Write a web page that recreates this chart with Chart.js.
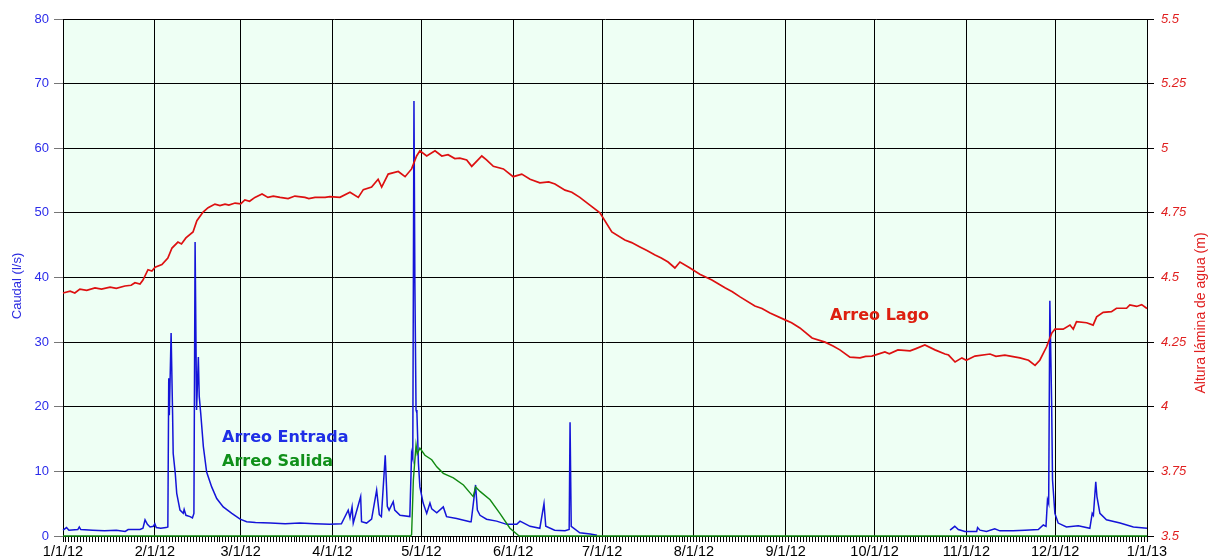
<!DOCTYPE html>
<html>
<head>
<meta charset="utf-8">
<script src="https://cdn.jsdelivr.net/npm/chart.js@4.4.1/dist/chart.umd.min.js"></script>
<style>
  body { margin: 0; background: #fff; }
  canvas { display: block; }
</style>
</head>
<body>
<canvas id="grafico-arreo" width="1210" height="558"></canvas>
<script>
// dias desde el 1/1/12 (2012 es bisiesto)
var mesesDias = [0, 31, 60, 91, 121, 152, 182, 213, 244, 274, 305, 335, 366];
var mesesEtiquetas = ["1/1/12", "2/1/12", "3/1/12", "4/1/12", "5/1/12", "6/1/12", "7/1/12",
                      "8/1/12", "9/1/12", "10/1/12", "11/1/12", "12/1/12", "1/1/13"];

var entradaDias = [
  0, 1.2, 2, 5, 5.5, 6, 10, 14, 18, 21,
  22, 26, 27, 27.7, 28.5, 29.4, 30.5, 31, 31.5, 33,
  34.8, 35.4, 35.7, 35.9, 36.5, 37.0, 37.2, 37.9, 38.4, 39.5,
  40.6, 40.9, 41.5, 42.9, 43.7, 44.2, 44.6, 45.1, 45.7, 46.0,
  46.5, 47.4, 48.5, 50.2, 51.9, 54.1, 57.0, 59.8, 62, 65,
  70, 75, 80, 85, 90, 94, 96.3, 96.9, 97.6, 98,
  100.5, 100.8, 102.5, 104.2, 105.9, 106.8, 107.5, 108.8, 109.5, 110.1,
  111.5, 112, 113.8, 117.1, 117.7, 118.1, 118.5, 118.8, 119.2, 119.5,
  120, 120.5, 121.6, 122.8, 123.9, 124.5, 126.2, 128.4, 129.5, 132.9,
  137.4, 137.8, 139.3, 139.9, 140.8, 143, 146.4, 149.8, 153.2, 154.3,
  157.7, 161, 162.4, 163, 166, 169.5, 170.9, 171.2, 171.6, 174.5,
  178, 180.3, 240, 299.5, 301.1, 302.3, 304.5, 308.5, 308.8, 309.6,
  311.8, 314.6, 316.3, 320.8, 324.8, 329.3, 331, 331.9, 332.4, 332.8,
  333.2, 333.8, 334.1, 334.9, 336, 338.8, 342.8, 346.7, 347.5, 347.9,
  348.7, 349.1, 350.1, 352.3, 356.9, 361.4, 366
];
var entradaCaudal = [
  0.9, 1.3, 0.9, 1.0, 1.4, 1.0, 0.9, 0.8, 0.9, 0.7,
  1.0, 1.0, 1.2, 2.5, 1.8, 1.4, 1.5, 1.9, 1.3, 1.2,
  1.3, 1.4, 24.4, 18.7, 31.4, 19, 12.8, 9.7, 6.6, 4,
  3.5, 4.1, 3.2, 3.0, 2.8, 3.5, 45.5, 19.5, 27.7, 21.6,
  19, 13.8, 9.9, 7.6, 5.8, 4.5, 3.5, 2.6, 2.2, 2.1,
  2.0, 1.9, 2.0, 1.9, 1.8, 1.9, 4.0, 2.8, 4.5, 2.0,
  6.1, 2.2, 2.0, 2.6, 7.1, 3.3, 3.0, 12.5, 4.6, 4.0,
  5.3, 4.0, 3.2, 3.0, 12.8, 12, 67.3, 39.6, 19.5, 19,
  11.3, 7.6, 5.1, 3.5, 5.1, 4.2, 3.6, 4.5, 3.0, 2.7,
  2.2, 2.2, 7.9, 4, 3.2, 2.6, 2.3, 1.8, 1.8, 2.3,
  1.5, 1.2, 5, 1.5, 0.9, 0.8, 1.0, 17.6, 1.5, 0.5,
  0.3, 0.1, null, 0.9, 1.5, 1.0, 0.7, 0.7, 1.3, 0.9,
  0.7, 1.1, 0.8, 0.8, 0.9, 1.0, 1.7, 1.5, 5.6, 5.0,
  36.4, 20.6, 8.7, 3.5, 2.0, 1.4, 1.6, 1.2, 3.5, 3.2,
  8.4, 6.1, 3.5, 2.5, 2.0, 1.4, 1.2
];

var salidaDias = [0, 117.3, 117.7, 118.3, 119.2, 119.6, 120.5, 122.2, 124.5, 126.2, 128.4,
                  131.8, 135.2, 138.5, 139.3, 140.8, 144.2, 147.5, 150.9, 153.2, 154, 366];
var salidaCaudal = [0, 0, 0.2, 8.7, 14.1, 12.7, 13.6, 12.5, 11.8, 10.7, 9.7,
                    9.0, 7.9, 6.1, 7.6, 6.9, 5.6, 3.5, 1.2, 0.3, 0, 0];

var lagoDias = [
  0, 2.4, 4, 5.7, 8, 10.8, 13, 15.9, 18, 20.9,
  23, 24.3, 26, 27, 28.7, 30, 31.1, 33.4, 35.4, 36.8,
  38.8, 40, 41.5, 43.9, 45.2, 47.3, 49, 51.3, 53, 54.7,
  56, 58.1, 60, 61.4, 63, 64.8, 67.2, 69.2, 71, 73.3,
  76, 78.3, 81.7, 83, 85.1, 88.5, 90.1, 93.5, 96.9, 99.7,
  101.4, 104.2, 106.4, 107.6, 109.8, 113.2, 115.5, 117.7, 119.4, 120.5,
  122.8, 125.6, 127.9, 130, 132.3, 134, 136.3, 138, 141.4, 143,
  145.3, 148.7, 152, 154.9, 157.7, 161, 164, 166.1, 169.5, 171.8,
  174.5, 177.9, 181.3, 185.3, 189.7, 192, 194.8, 197, 199.9, 202,
  204.3, 206.6, 208.3, 211.7, 215, 219.1, 223.5, 226, 228.6, 233.6,
  236, 238.7, 243.8, 246, 248.8, 252.9, 257.3, 260, 262.3, 265.7,
  269.1, 271, 273.1, 277.5, 279, 281.9, 286, 288, 291, 294.4,
  297.8, 299, 301.2, 303.5, 305, 307.9, 313, 315, 318, 323.1,
  326, 328.2, 329.8, 332.1, 333.8, 334.9, 337.7, 340, 341.1, 342.2,
  345.6, 347.8, 349, 351.2, 354, 355.7, 359.1, 360.2, 362.5, 364.2,
  366
];
var lagoAltura = [
  4.44, 4.447, 4.44, 4.455, 4.45, 4.46, 4.455, 4.463, 4.458, 4.467,
  4.47, 4.48, 4.475, 4.49, 4.53, 4.525, 4.54, 4.55, 4.575, 4.614,
  4.637, 4.63, 4.653, 4.676, 4.72, 4.753, 4.77, 4.784, 4.778, 4.784,
  4.78, 4.788, 4.785, 4.80, 4.795, 4.81, 4.823, 4.81, 4.815, 4.81,
  4.805, 4.815, 4.81, 4.805, 4.81, 4.81, 4.813, 4.81, 4.83, 4.81,
  4.84, 4.85, 4.88, 4.85, 4.90, 4.91, 4.89, 4.92, 4.97, 4.99,
  4.97, 4.99, 4.97, 4.975, 4.96, 4.962, 4.955, 4.93, 4.97, 4.955,
  4.93, 4.92, 4.89, 4.90, 4.88, 4.866, 4.87, 4.862, 4.838, 4.83,
  4.81, 4.78, 4.75, 4.676, 4.645, 4.635, 4.618, 4.605, 4.587, 4.575,
  4.56, 4.537, 4.56, 4.537, 4.513, 4.49, 4.46, 4.445, 4.425, 4.39,
  4.38, 4.363, 4.336, 4.325, 4.305, 4.266, 4.25, 4.235, 4.22, 4.192,
  4.189, 4.195, 4.196, 4.212, 4.205, 4.22, 4.216, 4.225, 4.239, 4.22,
  4.204, 4.2, 4.173, 4.189, 4.18, 4.196, 4.204, 4.195, 4.2, 4.189,
  4.18, 4.16, 4.18, 4.232, 4.284, 4.30, 4.30, 4.316, 4.30, 4.329,
  4.325, 4.316, 4.348, 4.365, 4.368, 4.381, 4.381, 4.394, 4.388, 4.395,
  4.38
];

var puntos = function(dias, valores) {
  return dias.map(function(d, i) { return { x: d, y: valores[i] }; });
};

var todosLosDias = [];
for (var d = 0; d <= 366; d++) todosLosDias.push(d);

var fondoArea = {
  id: 'fondoArea',
  beforeDraw: function(chart) {
    var a = chart.chartArea, ctx = chart.ctx;
    ctx.save();
    ctx.fillStyle = '#eefff4';
    ctx.fillRect(a.left, a.top, a.right - a.left, a.bottom - a.top);
    ctx.restore();
  }
};

var textos = {
  id: 'textos',
  afterDraw: function(chart) {
    var ctx = chart.ctx, sx = chart.scales.x, sy = chart.scales.y, sy2 = chart.scales.y2;
    ctx.save();
    ctx.textBaseline = 'middle';
    ctx.textAlign = 'left';
    ctx.font = 'bold 16px "DejaVu Sans", sans-serif';
    ctx.fillStyle = '#1f2fe6';
    ctx.fillText('Arreo Entrada', sx.getPixelForValue(53.7), sy.getPixelForValue(15.2));
    ctx.fillStyle = '#10901a';
    ctx.fillText('Arreo Salida', sx.getPixelForValue(53.7), sy.getPixelForValue(11.45));
    ctx.fillStyle = '#dd2010';
    ctx.fillText('Arreo Lago', sx.getPixelForValue(259), sy2.getPixelForValue(4.351));

    // titulos de ejes
    ctx.textAlign = 'center';
    ctx.font = '13px Arial, "Liberation Sans", sans-serif';
    ctx.fillStyle = '#2a2ae0';
    ctx.translate(17, 286);
    ctx.rotate(-Math.PI / 2);
    ctx.fillText('Caudal (l/s)', 0, 0);
    ctx.setTransform(1, 0, 0, 1, 0, 0);
    ctx.font = '14px Arial, "Liberation Sans", sans-serif';
    ctx.fillStyle = '#e02020';
    ctx.translate(1201, 313);
    ctx.rotate(-Math.PI / 2);
    ctx.fillText('Altura lámina de agua (m)', 0, 0);
    ctx.restore();
  }
};

Chart.defaults.font.family = 'Arial, "Liberation Sans", sans-serif';

var ctx = document.getElementById('grafico-arreo').getContext('2d');
var grafico = new Chart(ctx, {
  type: 'line',
  data: {
    datasets: [
      {
        label: 'Arreo Lago',
        data: puntos(lagoDias, lagoAltura),
        yAxisID: 'y2',
        borderColor: '#dd1010',
        borderWidth: 1.7,
        pointRadius: 0,
        tension: 0,
        clip: 3
      },
      {
        label: 'Arreo Salida',
        data: puntos(salidaDias, salidaCaudal),
        yAxisID: 'y',
        borderColor: '#118a11',
        borderWidth: 1.4,
        pointRadius: 0,
        tension: 0,
        clip: 3
      },
      {
        label: 'Arreo Entrada',
        data: puntos(entradaDias, entradaCaudal),
        yAxisID: 'y',
        borderColor: '#1414d8',
        borderWidth: 1.5,
        pointRadius: 0,
        tension: 0,
        spanGaps: false,
        clip: 3
      }
    ]
  },
  options: {
    responsive: false,
    animation: false,
    layout: { padding: { top: 19, left: 0, right: 0, bottom: 0 } },
    plugins: {
      legend: { display: false },
      tooltip: { enabled: false }
    },
    scales: {
      x: {
        type: 'linear',
        min: 0,
        max: 366,
        afterBuildTicks: function(s) {
          s.ticks = todosLosDias.map(function(v) { return { value: v }; });
        },
        afterFit: function(s) { s.height = 22; },
        ticks: {
          autoSkip: false,
          maxRotation: 0,
          padding: 1,
          color: '#000',
          font: { size: 14.5 },
          callback: function(v) {
            var i = mesesDias.indexOf(v);
            return i >= 0 ? mesesEtiquetas[i] : '';
          }
        },
        grid: {
          color: function(c) {
            return c.tick && mesesDias.indexOf(c.tick.value) >= 0 ? '#000' : 'rgba(0,0,0,0)';
          },
          tickColor: '#000',
          tickLength: 6
        },
        border: { color: '#000' }
      },
      y: {
        position: 'left',
        min: 0,
        max: 80,
        afterFit: function(s) { s.width = 63; },
        ticks: { stepSize: 10, color: '#2b2bea', font: { size: 13 }, padding: 5 },
        grid: { color: '#000', tickColor: '#777', tickLength: 9 },
        border: { color: '#000' }
      },
      y2: {
        position: 'right',
        min: 3.5,
        max: 5.5,
        afterFit: function(s) { s.width = 63; },
        ticks: {
          stepSize: 0.25,
          color: '#e02020',
          font: { size: 13, style: 'italic' },
          padding: 7,
          callback: function(v) { return String(v); }
        },
        grid: { drawOnChartArea: false, tickColor: '#000', tickLength: 7 },
        border: { color: '#000' }
      }
    }
  },
  plugins: [fondoArea, textos]
});
</script>
</body>
</html>
